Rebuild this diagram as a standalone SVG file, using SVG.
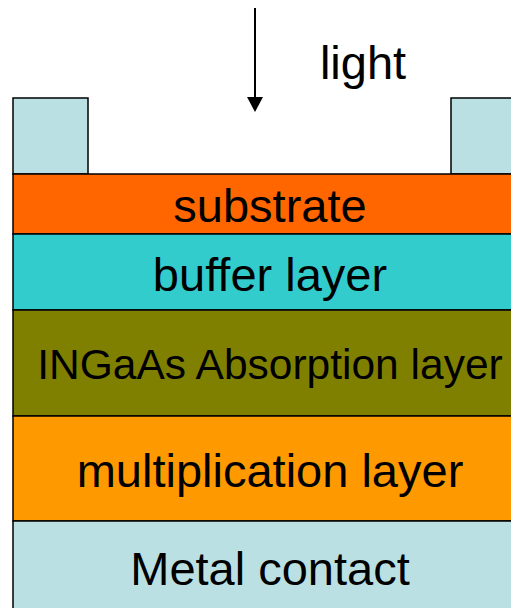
<svg xmlns="http://www.w3.org/2000/svg" width="511" height="608" viewBox="0 0 511 608">
<style>
.l{stroke:#000;stroke-width:1.5}
.t{font-family:"Liberation Sans",Arial,sans-serif;font-size:47px;fill:#000;text-anchor:middle}
</style>
<rect width="511" height="608" fill="#fff"/>
<g id="pad-left"><rect class="l" x="13" y="98" width="75" height="76" fill="#BBE0E3"/></g>
<g id="pad-right"><rect class="l" x="451" y="98" width="80" height="76" fill="#BBE0E3"/></g>
<g id="substrate"><rect class="l" x="13" y="174" width="520" height="60" fill="#FF6600"/><text class="t" x="270" y="222">substrate</text></g>
<g id="buffer"><rect class="l" x="13" y="234" width="520" height="76" fill="#33CCCC"/><text class="t" x="270" y="291">buffer layer</text></g>
<g id="absorption"><rect class="l" x="13" y="310" width="520" height="106" fill="#808000"/><text class="t" x="270" y="379" style="font-size:42.5px">INGaAs Absorption layer</text></g>
<g id="multiplication"><rect class="l" x="13" y="416" width="520" height="105" fill="#FF9900"/><text class="t" x="270" y="487">multiplication layer</text></g>
<g id="metal"><rect class="l" x="13" y="521" width="520" height="100" fill="#BBE0E3"/><text class="t" x="270" y="585">Metal contact</text></g>
<g id="light-label"><text class="t" x="363" y="79">light</text></g>
<g id="connectors">
<line x1="255" y1="8" x2="255" y2="100" stroke="#000" stroke-width="2"/>
<polygon points="247,97 263,97 255,112" fill="#000"/>
</g>
</svg>
